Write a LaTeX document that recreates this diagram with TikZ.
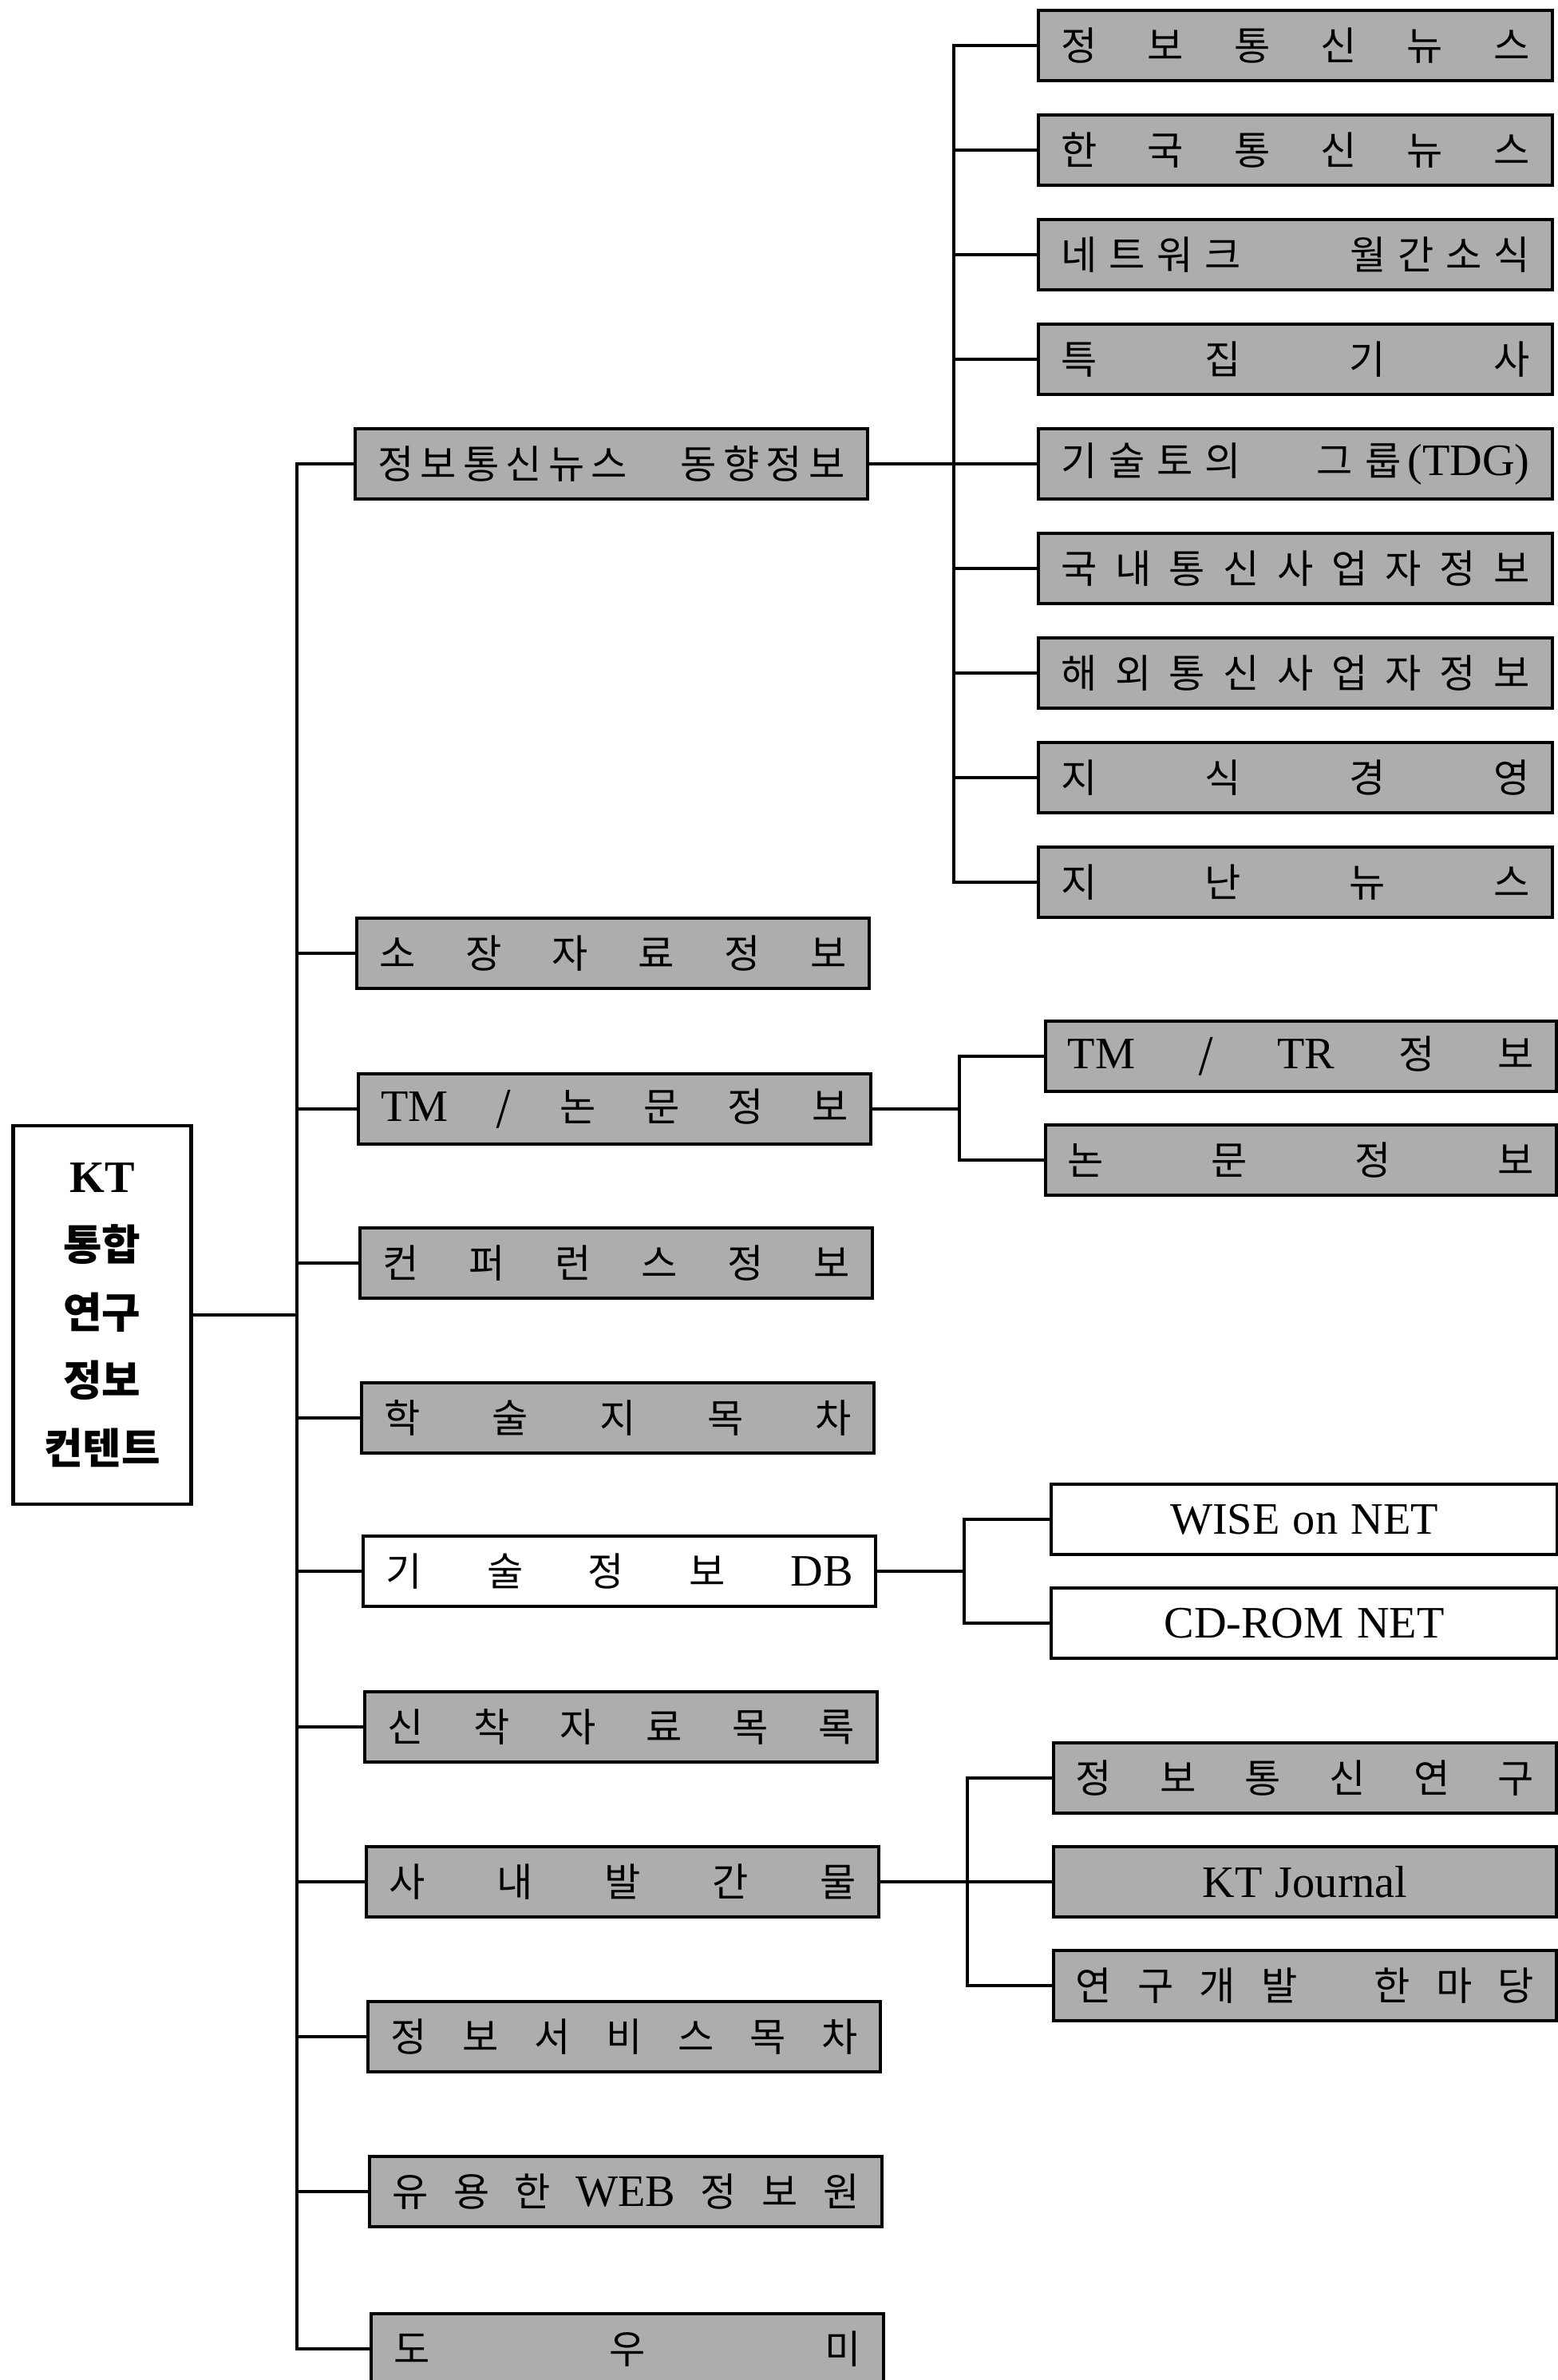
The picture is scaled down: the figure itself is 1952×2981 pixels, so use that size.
\documentclass[tikz,border=0pt]{standalone}
\usepackage{fontspec}
\setmainfont{Liberation Serif}
\newfontfamily\kr{Noto Sans CJK KR}
\usetikzlibrary{positioning}
\newcommand{\latn}[1]{{\rmfamily\fontsize{16}{18}\selectfont #1}}
\newcommand{\gap}{\kern.3em}

\begin{document}
\begin{tikzpicture}[x=0.01cm,y=-0.01cm,
  gb/.style={draw,line width=1.2pt,fill=black!32,minimum height=8.8mm,inner xsep=2.8mm,inner ysep=0pt,text width=#1,align=center,font=\kr\fontsize{14}{17}\selectfont},
  gb/.default=58.5mm,
  wb/.style={gb=#1,fill=white},
  wb/.default=58.5mm,
  root/.style={draw,line width=1.2pt,minimum width=22.3mm,minimum height=47.3mm,inner sep=0pt,align=center,font=\kr\bfseries\fontsize{15}{24.2}\selectfont},
  ln/.style={line width=1.2pt}]
\useasboundingbox (0,0) rectangle (1952,2981);
% root and main column
\node[root] (root) at (128,1647) {\latn{\bfseries KT}\\통합\\연구\\정보\\컨텐트};
\node[gb] (news) at (766,581) {정\,보\,통\,신\,뉴\,스\hfill 동\,향\,정\,보};
\node[gb] (hold) at (768,1194) {소\hfill 장\hfill 자\hfill 료\hfill 정\hfill 보};
\node[gb] (tm) at (770,1389) {\latn{TM}\hfill /\hfill 논\hfill 문\hfill 정\hfill 보};
\node[gb] (conf) at (772,1582) {컨\hfill 퍼\hfill 런\hfill 스\hfill 정\hfill 보};
\node[gb] (jour) at (774,1776) {학\hfill 술\hfill 지\hfill 목\hfill 차};
\node[wb] (tdb) at (776,1968) {기\hfill 술\hfill 정\hfill 보\hfill \latn{DB}};
\node[gb] (newl) at (778,2163) {신\hfill 착\hfill 자\hfill 료\hfill 목\hfill 록};
\node[gb] (pub) at (780,2357) {사\hfill 내\hfill 발\hfill 간\hfill 물};
\node[gb] (svc) at (782,2551) {정\hfill 보\hfill 서\hfill 비\hfill 스\hfill 목\hfill 차};
\node[gb] (web) at (784,2745) {유\hfill 용\hfill 한\hfill \latn{WEB}\hfill 정\hfill 보\hfill 원};
\node[gb] (help) at (786,2942) {도\hfill 우\hfill 미};
\coordinate (t) at (372,1647);
\draw[ln] (news.west) -| (t) |- (help.west);
\draw[ln] (root.east) -- (t);
\foreach \n in {hold,tm,conf,jour,tdb,newl,pub,svc,web}
  \draw[ln] (\n.west) -- (\n.west -| t);
% news branch
\node[gb=58.7mm] (r1) at (1623,57) {정\hfill 보\hfill 통\hfill 신\hfill 뉴\hfill 스};
\node[gb=58.7mm] (r2) at (1623,188) {한\hfill 국\hfill 통\hfill 신\hfill 뉴\hfill 스};
\node[gb=58.7mm] (r3) at (1623,319) {네\gap 트\gap 워\gap 크\hfill 월\gap 간\gap 소\gap 식};
\node[gb=58.7mm] (r4) at (1623,450) {특\hfill 집\hfill 기\hfill 사};
\node[gb=58.7mm] (r5) at (1623,581) {기\gap 술\gap 토\gap 의\hfill 그\gap 룹\,\latn{(TDG)}};
\node[gb=58.7mm] (r6) at (1623,712) {국\hfill 내\hfill 통\hfill 신\hfill 사\hfill 업\hfill 자\hfill 정\hfill 보};
\node[gb=58.7mm] (r7) at (1623,843) {해\hfill 외\hfill 통\hfill 신\hfill 사\hfill 업\hfill 자\hfill 정\hfill 보};
\node[gb=58.7mm] (r8) at (1623,974) {지\hfill 식\hfill 경\hfill 영};
\node[gb=58.7mm] (r9) at (1623,1105) {지\hfill 난\hfill 뉴\hfill 스};
\coordinate (b1) at (1195,581);
\draw[ln] (news.east) -- (b1);
\draw[ln] (r1.west) -| (b1) |- (r9.west);
\foreach \i in {2,...,8}
  \draw[ln] (r\i.west) -- (r\i.west -| b1);
% TM branch
\node[gb=58.4mm] (tr1) at (1630,1323) {\latn{TM}\hfill /\hfill \latn{TR}\hfill 정\hfill 보};
\node[gb=58.4mm] (tr2) at (1630,1453) {논\hfill 문\hfill 정\hfill 보};
\coordinate (b2) at (1202,1389);
\draw[ln] (tm.east) -- (b2);
\draw[ln] (tr1.west) -| (b2) |- (tr2.west);
% DB branch
\node[wb=57.7mm] (wise) at (1634,1903) {\latn{WISE on NET}};
\node[wb=57.7mm] (cdrom) at (1634,2033) {\latn{CD-ROM NET}};
\coordinate (b3) at (1208,1968);
\draw[ln] (tdb.east) -- (b3);
\draw[ln] (wise.west) -| (b3) |- (cdrom.west);
% publications branch
\node[gb=57.4mm] (p1) at (1635,2227) {정\hfill 보\hfill 통\hfill 신\hfill 연\hfill 구};
\node[gb=57.4mm] (p2) at (1635,2357) {\latn{KT Journal}};
\node[gb=57.4mm] (p3) at (1635,2487) {연\hfill 구\hfill 개\hfill 발\hfill\hfill\hfill 한\hfill 마\hfill 당};
\coordinate (b4) at (1212,2357);
\draw[ln] (pub.east) -- (p2.west);
\draw[ln] (p1.west) -| (b4) |- (p3.west);
\end{tikzpicture}
\end{document}
